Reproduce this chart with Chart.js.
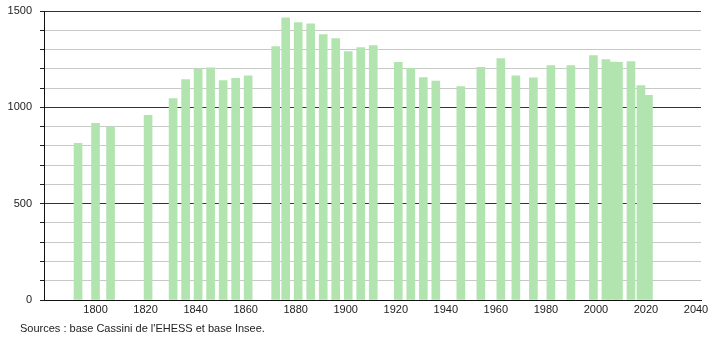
<!DOCTYPE html>
<html>
<head>
<meta charset="utf-8">
<script src="https://cdn.jsdelivr.net/npm/chart.js@4"></script>
<style>
  html, body { margin: 0; padding: 0; background: #fff; }
  #wrap { width: 710px; height: 340px; position: relative; }
</style>
</head>
<body>
<div id="wrap"><canvas id="popChart" width="710" height="340"></canvas></div>
<script>
// census years and population
const years = [1793, 1800, 1806, 1821, 1831, 1836, 1841, 1846, 1851, 1856, 1861,
    1872, 1876, 1881, 1886, 1891, 1896, 1901, 1906, 1911,
    1921, 1926, 1931, 1936, 1946, 1954, 1962, 1968, 1975, 1982, 1990, 1999,
    2004, 2007, 2009, 2014, 2018, 2021];
const population = [813, 917, 899, 958, 1046, 1144, 1200, 1205, 1139, 1150, 1164,
    1315, 1464, 1440, 1433, 1378, 1357, 1290, 1310, 1321,
    1233, 1202, 1155, 1136, 1108, 1207, 1253, 1164, 1153, 1217, 1217, 1268,
    1248, 1235, 1233, 1238, 1113, 1062];
const xTickLabels = [1800, 1820, 1840, 1860, 1880, 1900, 1920, 1940, 1960, 1980, 2000, 2020, 2040];
const yTickLabels = [0, 500, 1000, 1500];
const sourceText = "Sources : base Cassini de l'EHESS et base Insee.";

const points = years.map((y, i) => ({ x: y, y: population[i] }));

// texte des sources en bas
const sourcePlugin = {
    id: 'sourceText',
    afterDraw(chart) {
        const c = chart.ctx;
        c.save();
        c.font = '11px "Liberation Sans", Arial, sans-serif';
        c.fillStyle = '#222';
        c.textBaseline = 'middle';
        c.fillText(sourceText, 20, 329);
        c.restore();
    }
};

const ctx = document.getElementById('popChart').getContext('2d');
new Chart(ctx, {
    type: 'bar',
    data: {
        datasets: [{
            data: points,
            backgroundColor: 'rgb(178, 228, 175)',
            borderWidth: 0,
            barThickness: 8
        }]
    },
    options: {
        responsive: false,
        animation: false,
        layout: { padding: { top: 11, right: 9, left: 0, bottom: 0 } },
        plugins: {
            legend: { display: false },
            tooltip: { enabled: false }
        },
        scales: {
            x: {
                type: 'linear',
                offset: false,
                min: 1779.4,
                max: 2042,
                afterBuildTicks: (scale) => {
                    scale.ticks = xTickLabels.map(v => ({ value: v }));
                },
                afterFit: (scale) => {
                    scale.height = 40;
                    scale.paddingLeft = 0;
                    scale.paddingRight = 0;
                },
                grid: { display: false, drawTicks: false, offset: false },
                border: { display: true, color: '#111', width: 1 },
                ticks: {
                    padding: 3,
                    maxRotation: 0,
                    autoSkip: false,
                    color: '#222',
                    font: { family: '"Liberation Sans", Arial, sans-serif', size: 11 },
                    callback: (v) => String(v)
                }
            },
            y: {
                min: 0,
                max: 1500,
                afterBuildTicks: (scale) => {
                    const t = [];
                    for (let v = 0; v <= 1500; v += 100) t.push({ value: v });
                    scale.ticks = t;
                },
                afterFit: (scale) => {
                    scale.width = 44;
                    scale.paddingTop = 0;
                    scale.paddingBottom = 0;
                },
                grid: {
                    color: (c) => (c.tick && c.tick.value % 500 === 0) ? '#333' : '#c8c8c8',
                    tickColor: '#222',
                    tickLength: 4,
                    lineWidth: 1
                },
                border: { display: true, color: '#111', width: 1 },
                ticks: {
                    padding: 8,
                    autoSkip: false,
                    color: '#222',
                    font: { family: '"Liberation Sans", Arial, sans-serif', size: 11 },
                    callback: (v) => yTickLabels.includes(v) ? String(v) : ''
                }
            }
        }
    },
    plugins: [sourcePlugin]
});
</script>
</body>
</html>
